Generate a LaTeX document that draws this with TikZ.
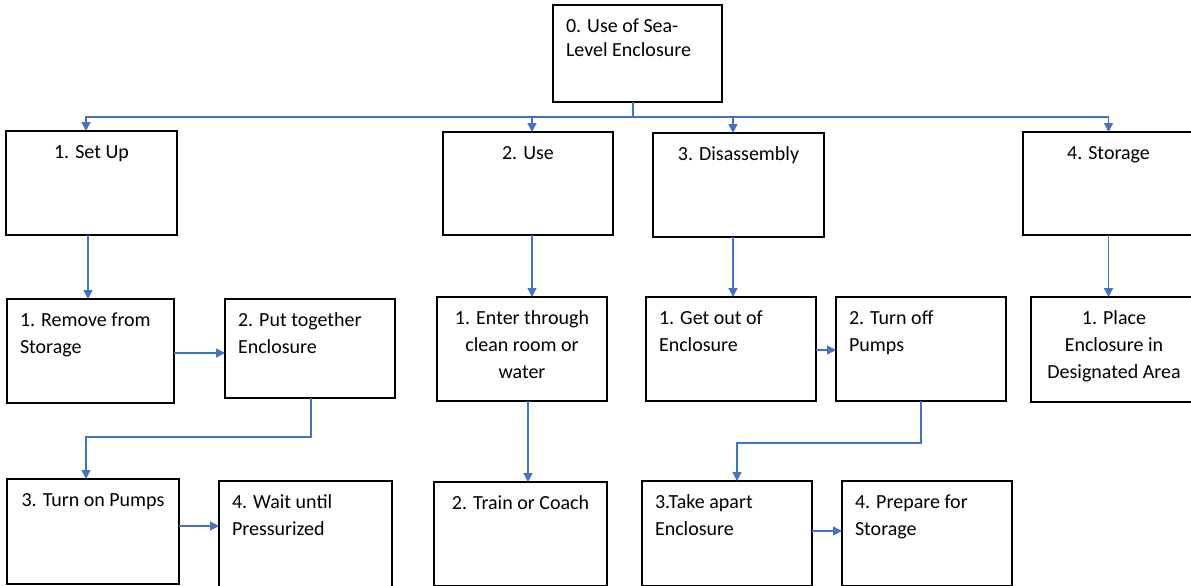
\documentclass[tikz,border=0pt]{standalone}
\usepackage{fontspec}
\setmainfont{Carlito}
\usetikzlibrary{arrows.meta}
\definecolor{wordblue}{HTML}{4472C4}
\newcommand\flowbox[7]{%
  \node[flowbox] (#1) at (#2,-#3)
    {\parbox[c][#5pt][t]{\dimexpr#4pt-26pt\relax}{#6\rule{0pt}{27pt}#7}};}
\begin{document}
\begin{tikzpicture}[x=1pt,y=1pt,
  flowbox/.style={draw=black, line width=1.3pt, anchor=north west,
    inner xsep=13pt, inner ysep=0pt, outer sep=0pt,
    font=\fontsize{20}{27}\selectfont},
  conn/.style={draw=wordblue, line width=1.3pt},
  arr/.style={conn, -{Triangle[length=9pt,width=9pt]}}]
\useasboundingbox[fill=white] (0,0) rectangle (1191,-586);
% level 0
\node[flowbox] (root) at (553,-5)
  {\parbox[c][97pt][t]{143pt}{\fontsize{20}{24}\selectfont\raggedright\rule{0pt}{28pt}0. Use of Sea-\\Level Enclosure}};
% level 1
\flowbox{setup}{6}{131}{171}{104}{\centering}{1. Set Up}
\flowbox{use}{443}{132}{170}{103}{\centering}{2. Use}
\flowbox{disas}{653}{133}{171}{104}{\centering}{3. Disassembly}
\flowbox{storage}{1023}{132}{171}{103}{\centering}{4. Storage}
% level 2
\flowbox{remove}{7}{299}{167}{104}{\raggedright}{1. Remove from\\Storage}
\flowbox{puttog}{225}{299}{170}{99}{\raggedright}{2. Put together\\Enclosure}
\flowbox{enter}{437}{297}{170}{104}{\centering}{1. Enter through\\clean room or\\water}
\flowbox{getout}{646}{297}{170}{104}{\raggedright}{1. Get out of\\Enclosure}
\flowbox{turnoff}{836}{297}{170}{104}{\raggedright}{2. Turn off\\Pumps}
\flowbox{place}{1031}{297}{166}{105}{\centering}{1. Place\\Enclosure in\\Designated Area}
% level 3
\flowbox{turnon}{7}{479}{172}{105}{\centering}{3. Turn on Pumps}
\flowbox{wait}{219}{481}{173}{108}{\raggedright}{4. Wait until\\Pressurized}
\flowbox{train}{434}{482}{173}{104}{\centering}{2. Train or Coach}
\flowbox{takeapart}{642}{481}{170}{105}{\raggedright}{3.Take apart\\Enclosure}
\flowbox{prepare}{842}{481}{170}{105}{\raggedright}{4. Prepare for\\Storage}
% connectors from root
\coordinate (bus) at (633,-117);
\draw[conn] (root.south -| bus) -- (bus);
\draw[arr] (bus) -| ([xshift=-5.5pt]setup.north);
\draw[arr] (bus) -| ([xshift=4pt]use.north);
\draw[arr] (bus) -| ([xshift=-5.5pt]disas.north);
\draw[arr] (bus) -| (storage.north);
% level 1 -> level 2
\draw[arr] ([xshift=-3.5pt]setup.south) -- ([xshift=-3.5pt]setup.south |- remove.north);
\draw[arr] ([xshift=4pt]use.south) -- ([xshift=4pt]use.south |- enter.north);
\draw[arr] ([xshift=-5.5pt]disas.south) -- ([xshift=-5.5pt]disas.south |- getout.north);
\draw[arr] (storage.south) -- (storage.south |- place.north);
% within branches
\draw[arr] ([yshift=-2pt]remove.east) -- ([yshift=-2pt]remove.east -| puttog.west);
\draw[arr] ([xshift=1pt]puttog.south) -- ++(0,-39) -| ([xshift=-7pt]turnon.north);
\draw[arr] ([yshift=5.5pt]turnon.east) -- ([yshift=5.5pt]turnon.east -| wait.west);
\draw[arr] ([xshift=6pt]enter.south) -- ([xshift=6pt]enter.south |- train.north);
\draw[arr] ([yshift=-1pt]getout.east) -- ([yshift=-1pt]getout.east -| turnoff.west);
\draw[arr] (turnoff.south) -- ++(0,-42) -| ([xshift=10pt]takeapart.north);
\draw[arr] ([yshift=2.5pt]takeapart.east) -- ([yshift=2.5pt]takeapart.east -| prepare.west);
\end{tikzpicture}
\end{document}
